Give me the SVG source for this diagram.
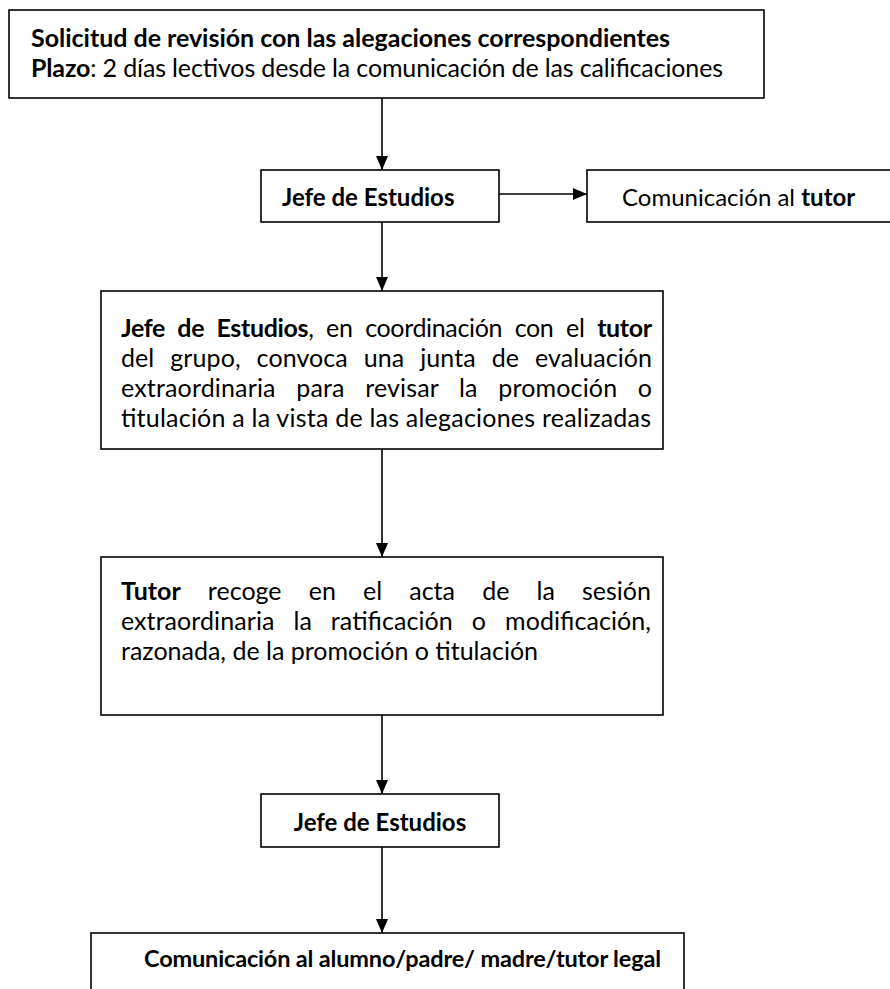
<svg xmlns="http://www.w3.org/2000/svg" width="890" height="989" viewBox="0 0 890 989">
<defs>
<marker id="ah" viewBox="0 0 14 12" refX="14" refY="6" markerWidth="14" markerHeight="12" markerUnits="userSpaceOnUse" orient="auto">
<path d="M0,0 L14,6 L0,12 z" fill="#000"/>
</marker>
<style>
.box{fill:#fff;stroke:#000;stroke-width:1.6}
.t{font-family:Lato,"Open Sans","Liberation Sans",sans-serif;font-size:25px;fill:#000}
.j{font-size:24px}
.b{font-weight:bold}
.conn path{fill:none;stroke:#000;stroke-width:1.6;marker-end:url(#ah)}
</style>
</defs>
<rect width="890" height="989" fill="#fff"/>
<g class="conn" id="connectors">
<path d="M382,98 V170"/>
<path d="M499,194 H587"/>
<path d="M382,222 V291"/>
<path d="M382,449 V557"/>
<path d="M382,715 V794"/>
<path d="M382,847 V933"/>
</g>
<g id="solicitud">
<rect class="box" x="9" y="10" width="755" height="88"/>
<text class="t b" x="31" y="47" textLength="639" lengthAdjust="spacing">Solicitud de revisión con las alegaciones correspondientes</text>
<text class="t" x="31" y="77" textLength="692" lengthAdjust="spacing"><tspan class="b">Plazo</tspan>: 2 días lectivos desde la comunicación de las calificaciones</text>
</g>
<g id="jefe1">
<rect class="box" x="261" y="170" width="238" height="52"/>
<text class="t j b" x="282" y="206">Jefe de Estudios</text>
</g>
<g id="comunicacion-tutor">
<rect class="box" x="587" y="170" width="320" height="52"/>
<text class="t j" x="622" y="206">Comunicación al <tspan class="b">tutor</tspan></text>
</g>
<g id="junta">
<rect class="box" x="101" y="291" width="562" height="158"/>
<text class="t" x="121" y="337" word-spacing="6.6" textLength="531" lengthAdjust="spacing"><tspan class="b">Jefe de Estudios</tspan>, en coordinación con el <tspan class="b">tutor</tspan></text>
<text class="t" x="121" y="367" word-spacing="9.5" textLength="531" lengthAdjust="spacing">del grupo, convoca una junta de evaluación</text>
<text class="t" x="121" y="397" word-spacing="14" textLength="531" lengthAdjust="spacing">extraordinaria para revisar la promoción o</text>
<text class="t" x="121" y="427" textLength="530" lengthAdjust="spacing">titulación a la vista de las alegaciones realizadas</text>
</g>
<g id="acta">
<rect class="box" x="101" y="557" width="562" height="158"/>
<text class="t" x="121" y="600" word-spacing="20.7" textLength="530" lengthAdjust="spacing"><tspan class="b">Tutor</tspan> recoge en el acta de la sesión</text>
<text class="t" x="121" y="630" word-spacing="12.5" textLength="530" lengthAdjust="spacing">extraordinaria la ratificación o modificación,</text>
<text class="t" x="121" y="660">razonada, de la promoción o titulación</text>
</g>
<g id="jefe2">
<rect class="box" x="261" y="794" width="238" height="53"/>
<text class="t j b" x="380" y="831" text-anchor="middle">Jefe de Estudios</text>
</g>
<g id="comunicacion-alumno">
<rect class="box" x="91" y="933" width="593" height="70"/>
<text class="t b" x="144" y="967" style="font-size:23.5px" textLength="517" lengthAdjust="spacing">Comunicación al alumno/padre/ madre/tutor legal</text>
</g>
</svg>
